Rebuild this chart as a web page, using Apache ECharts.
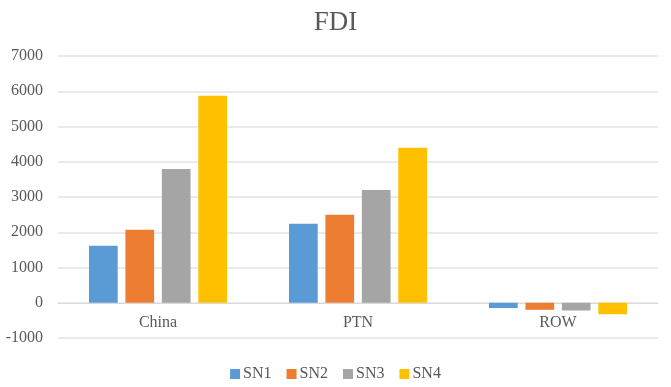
<!DOCTYPE html>
<html>
<head>
<meta charset="utf-8">
<script src="https://cdn.jsdelivr.net/npm/echarts@6/dist/echarts.min.js"></script>
<style>html,body{margin:0;padding:0;background:#fff;}#c{width:671px;height:387px;}</style>
</head>
<body>
<div id="c"></div>
<script>
var categories = ['China', 'PTN', 'ROW'];
var seriesNames = ['SN1', 'SN2', 'SN3', 'SN4'];
var sn1 = [1615, 2240, -150];
var sn2 = [2070, 2495, -200];
var sn3 = [3795, 3200, -220];
var sn4 = [5870, 4395, -325];
var yTicks = [-1000, 0, 1000, 2000, 3000, 4000, 5000, 6000, 7000];
var colors = ['#5B9BD5', '#ED7D31', '#A5A5A5', '#FFC000'];

var font = '"Liberation Serif", "DejaVu Serif", serif';
var chart = echarts.init(document.getElementById('c'));
var data = [sn1, sn2, sn3, sn4];
var gridTop = 56, gridBottom = 49, H = 387;
var plotH = H - gridTop - gridBottom;
var zeroOffset = plotH * (0 - yTicks[0]) / (yTicks[yTicks.length - 1] - yTicks[0]);
chart.setOption({
  animation: false,
  title: {
    text: 'FDI', left: 'center', top: 4,
    textStyle: {fontFamily: font, fontWeight: 'normal', fontSize: 27, color: '#595959'}
  },
  legend: {
    data: seriesNames, bottom: 0, left: 'center',
    itemWidth: 10, itemHeight: 10, itemGap: 15, icon: 'rect',
    textStyle: {fontFamily: font, fontSize: 16, color: '#595959', padding: [0, 0, 0, -2]}
  },
  grid: {left: 58, right: 13, top: gridTop, bottom: gridBottom},
  xAxis: {
    type: 'category', data: categories,
    offset: -zeroOffset,
    axisLine: {onZero: false, lineStyle: {color: '#d9d9d9'}},
    axisTick: {show: false},
    axisLabel: {fontFamily: font, fontSize: 16, color: '#595959', margin: 12}
  },
  yAxis: {
    type: 'value', min: yTicks[0], max: yTicks[yTicks.length - 1], interval: 1000,
    axisLine: {show: false}, axisTick: {show: false},
    splitLine: {lineStyle: {color: '#e3e3e3', width: 1.5}},
    axisLabel: {fontFamily: font, fontSize: 16, color: '#595959', margin: 15,
      formatter: function (v) { return String(v); }}
  },
  series: seriesNames.map(function (n, i) {
    return {
      name: n, type: 'bar', data: data[i],
      itemStyle: {color: colors[i]},
      barGap: '27%', barCategoryGap: '31%'
    };
  })
});
</script>
</body>
</html>
